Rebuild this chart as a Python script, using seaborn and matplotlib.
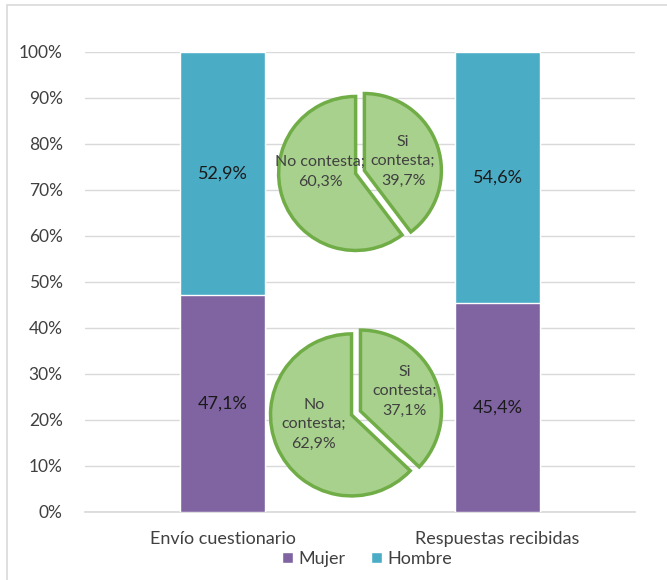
import numpy as np
import matplotlib
matplotlib.use("Agg")
import matplotlib.pyplot as plt
from matplotlib.patches import Rectangle
import pandas as pd
import seaborn as sns

# data
categorias = ["Envío cuestionario", "Respuestas recibidas"]
mujer = [47.1, 45.4]
hombre = [52.9, 54.6]
pie_labels_envio = ["Si\ncontesta", "No contesta"]
pie_labels_resp = ["Si\ncontesta", "No\ncontesta"]
pie_envio = [39.7, 60.3]
pie_respuestas = [37.1, 62.9]
yticks = np.arange(0, 101, 10)

sns.set_theme(style="white")
plt.rcParams["font.family"] = ["Lato", "DejaVu Sans"]

c_mujer = "#8064A2"
c_hombre = "#4BACC6"
W, H = 667, 580

fig = plt.figure(figsize=(W / 100, H / 100), dpi=100)
fig.patch.set_facecolor("white")
# grey frame at the top and left edge
fig.add_artist(Rectangle((7 / W, -0.1), 1.2, (H - 5) / H + 0.1, transform=fig.transFigure,
                         fill=False, edgecolor="#D9D9D9", linewidth=1.2))

ax = fig.add_axes([85 / W, (H - 512) / H, 550 / W, 460 / H])

df = pd.DataFrame({"cat": categorias, "Mujer": mujer, "Hombre": hombre})
df["total"] = df["Mujer"] + df["Hombre"]
sns.barplot(data=df, x="cat", y="total", color=c_hombre, width=0.31, saturation=1,
            ax=ax, label="Hombre", zorder=2)
sns.barplot(data=df, x="cat", y="Mujer", color=c_mujer, width=0.31, saturation=1,
            ax=ax, label="Mujer", zorder=3)
handles, labels = ax.get_legend_handles_labels()
if ax.get_legend() is not None:
    ax.get_legend().remove()

for i, (m, h) in enumerate(zip(mujer, hombre)):
    ax.text(i, m / 2, f"{m:.1f}%".replace(".", ","), ha="center", va="center",
            fontsize=13, color="#1a1a1a", zorder=5)
    ax.text(i, m + h / 2, f"{h:.1f}%".replace(".", ","), ha="center", va="center",
            fontsize=13, color="#1a1a1a", zorder=5)

ax.set_xlim(-0.5, 1.5)
ax.set_ylim(0, 100)
ax.set_yticks(yticks)
ax.set_yticklabels([f"{v}%" for v in yticks], fontsize=12.5, color="#404040")
ax.tick_params(axis="x", labelsize=13, labelcolor="#404040", pad=14, length=0)
ax.tick_params(axis="y", pad=16, length=0)
ax.set_xlabel("")
ax.set_ylabel("")
ax.yaxis.grid(True, color="#D9D9D9", linewidth=1)
ax.set_axisbelow(True)
for s in ["top", "right", "left"]:
    ax.spines[s].set_visible(False)
ax.spines["bottom"].set_color("#D9D9D9")
ax.spines["bottom"].set_zorder(1)

order = [labels.index("Mujer"), labels.index("Hombre")]
leg = fig.legend([handles[k] for k in order], [labels[k] for k in order],
                 loc="center", bbox_to_anchor=(367 / W, (H - 559) / H), ncol=2, frameon=False,
                 fontsize=13, handlelength=0.6, handleheight=0.6, handletextpad=0.3,
                 columnspacing=1.4)
for t in leg.get_texts():
    t.set_color("#404040")


def draw_pie(vals, names, cx, cy, r, label_pos):
    size = 2.2 * r
    pax = fig.add_axes([(cx - size / 2) / W, (H - cy - size / 2) / H, size / W, size / H])
    texts_lbl = [f"{l};\n{v:.1f}%".replace(".", ",") for l, v in zip(names, vals)]
    wedges, texts = pax.pie(vals, labels=texts_lbl, startangle=90, counterclock=False,
                            explode=[0.06, 0.06], labeldistance=0.6,
                            colors=["#A9D18E", "#A9D18E"],
                            wedgeprops=dict(edgecolor="#70AD47", linewidth=2.5),
                            textprops=dict(fontsize=11.5, color="#404040",
                                           linespacing=1.5))
    for t, p in zip(texts, label_pos):
        t.set_ha("center")
        t.set_va("center")
        t.set_multialignment("center")
        t.set_position(p)
    pax.set_xlim(-1.1, 1.1)
    pax.set_ylim(-1.1, 1.1)
    pax.set_aspect("equal")
    pax.axis("off")


draw_pie(pie_envio, pie_labels_envio, 360, 172, 77, [(0.56, 0.14), (-0.52, 0.0)])
draw_pie(pie_respuestas, pie_labels_resp, 356, 413, 81, [(0.6, 0.27), (-0.52, -0.14)])

fig.savefig("out.png", dpi=100, facecolor="white")
